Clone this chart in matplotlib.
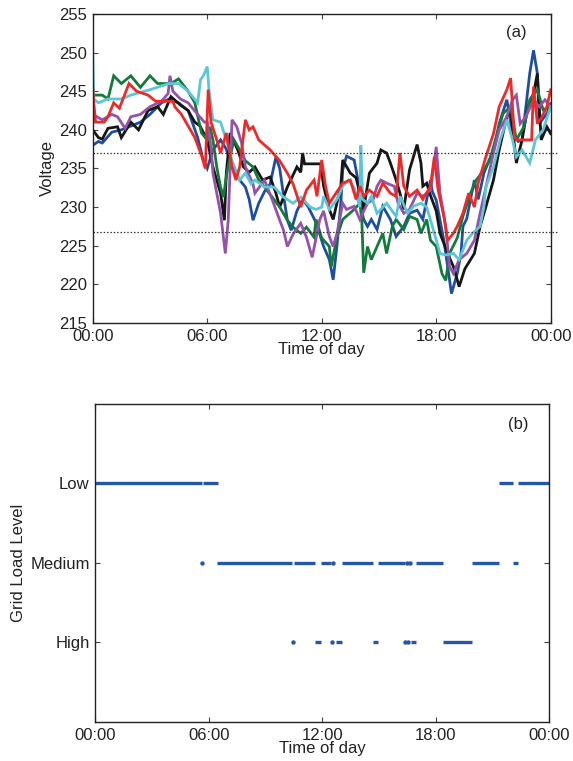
import numpy as np
import matplotlib
matplotlib.use("Agg")
import matplotlib.pyplot as plt

plt.rcParams['font.family'] = ['Liberation Sans', 'DejaVu Sans']

# ---------------- Data: panel (a) voltage traces (hour, volt) ----------------
blue_t = [0, 0.3, 0.5, 1.0, 1.5, 2.0, 2.5, 3.0, 3.6, 4.0, 4.5, 5.0, 5.5, 5.8, 6.0, 6.3, 6.7, 7.0, 7.3, 7.7,
          8.0, 8.2, 8.4, 8.7, 9.0, 9.3, 9.6, 9.8, 10.0, 10.2, 10.4, 10.7, 11.0, 11.3, 11.7, 12.1, 12.4, 12.6,
          12.8, 13.0, 13.1, 13.3, 13.7, 13.9, 14.0, 14.2, 14.4, 14.6, 14.9, 15.2, 15.6, 15.9, 16.3, 16.6,
          17.0, 17.3, 17.7, 17.8, 18.0, 18.4, 18.6, 18.8, 19.1, 19.3, 19.4, 19.6, 20.0, 20.2, 20.5, 21.0,
          21.3, 21.7, 22.0, 22.3, 22.5, 22.7, 22.9, 23.1, 23.3, 23.4, 23.8, 24.0]
blue_v = [238.0, 238.5, 238.3, 239.7, 240.0, 240.5, 241.0, 242.0, 243.5, 244.0, 243.5, 242.5, 239.0, 236.0,
          235.0, 237.4, 238.7, 237.5, 235.2, 233.5, 232.6, 231.0, 228.3, 230.5, 232.0, 233.0, 236.5, 235.0,
          231.5, 228.3, 227.0, 229.5, 231.0, 230.0, 228.0, 224.9, 223.2, 220.6, 225.0, 230.5, 234.8, 236.6,
          236.1, 233.5, 230.5, 228.4, 227.5, 228.4, 227.1, 230.1, 228.4, 226.2, 227.5, 229.2, 229.6, 228.4,
          233.5, 232.0, 230.9, 225.7, 222.3, 218.8, 221.4, 224.0, 227.5, 228.5, 233.5, 231.0, 234.4, 237.4,
          240.8, 243.9, 239.5, 238.5, 238.7, 243.0, 247.3, 250.3, 247.3, 240.8, 242.1, 243.4]

black_t = [0, 0.3, 0.5, 0.8, 1.3, 1.5, 2.0, 2.4, 2.9, 3.4, 3.7, 4.1, 4.6, 5.0, 5.35, 5.62, 6.0, 6.3, 6.7,
           6.9, 7.0, 7.2, 7.4, 7.6, 7.9, 8.2, 8.5, 8.9, 9.3, 9.6, 9.8, 10.2, 10.7, 10.9, 11.0, 11.1, 11.95,
           12.1, 12.4, 12.6, 13.0, 13.1, 13.5, 13.8, 14.2, 14.5, 14.9, 15.1, 15.4, 15.6, 15.9, 16.1, 16.3,
           16.6, 17.0, 17.2, 17.3, 17.5, 17.7, 18.0, 18.2, 18.6, 18.9, 19.1, 19.2, 19.5, 20.0, 20.3, 20.6,
           21.0, 21.3, 21.7, 21.9, 22.2, 22.5, 22.8, 23.1, 23.3, 23.5, 23.8, 24.0]
black_v = [240.0, 239.0, 238.8, 240.2, 240.4, 239.0, 241.0, 240.0, 242.5, 243.0, 242.0, 244.3, 243.2, 242.5,
           241.0, 240.5, 238.7, 235.2, 231.8, 228.3, 234.4, 239.6, 238.5, 237.4, 235.2, 234.5, 235.2, 233.5,
           233.9, 231.8, 230.0, 232.6, 235.2, 234.5, 237.0, 235.6, 235.6, 232.7, 229.7, 228.4, 232.7, 236.1,
           234.4, 233.8, 229.7, 234.4, 235.7, 237.4, 237.0, 235.7, 233.5, 231.8, 229.7, 234.8, 238.1, 235.7,
           232.7, 233.1, 231.5, 229.5, 226.6, 224.0, 222.3, 220.6, 219.7, 222.0, 224.0, 227.5, 230.0, 233.5,
           237.4, 241.7, 242.5, 235.7, 238.7, 243.0, 244.7, 247.3, 238.7, 240.4, 239.5]

green_t = [0, 0.5, 0.8, 1.1, 1.5, 2.0, 2.5, 3.0, 3.4, 4.1, 4.5, 5.0, 5.35, 5.7, 6.0, 6.15, 6.3, 6.5, 6.7,
           6.85, 7.0, 7.2, 7.4, 7.7, 8.0, 8.4, 8.7, 9.0, 9.4, 9.8, 10.2, 10.5, 10.9, 11.2, 11.6, 11.7, 12.0,
           12.4, 12.5, 12.8, 13.1, 13.7, 14.0, 14.1, 14.2, 14.4, 14.6, 14.9, 15.2, 15.4, 15.7, 15.9, 16.3,
           16.6, 17.0, 17.2, 17.5, 17.7, 18.0, 18.3, 18.5, 18.7, 19.1, 19.4, 19.8, 20.1, 20.5, 20.8, 21.2,
           21.5, 21.9, 22.2, 22.6, 22.9, 23.3, 23.6, 24.0]
green_v = [244.5, 244.5, 244.0, 247.0, 246.0, 247.0, 245.5, 247.0, 246.0, 246.0, 246.6, 245.0, 243.5, 239.6,
           238.7, 240.4, 238.7, 235.2, 232.6, 231.3, 234.0, 236.5, 238.7, 237.4, 236.0, 235.2, 233.5, 232.6,
           231.3, 230.0, 228.3, 227.4, 226.6, 227.4, 226.1, 228.4, 226.0, 224.9, 222.3, 226.2, 228.4, 229.7,
           230.5, 228.4, 221.5, 224.9, 223.2, 224.9, 226.6, 224.0, 227.5, 228.4, 227.1, 228.8, 228.4, 226.6,
           228.4, 225.7, 224.9, 221.4, 220.5, 224.0, 226.0, 228.8, 231.8, 233.5, 234.8, 236.1, 239.5, 242.1,
           243.0, 238.7, 240.4, 243.9, 245.2, 242.6, 243.0]

red_t = [0, 0.05, 0.15, 0.6, 0.8, 1.1, 1.4, 1.9, 2.3, 2.9, 3.3, 4.2, 4.3, 4.65, 5.0, 5.35, 5.7, 5.9, 6.05,
         6.2, 6.5, 6.7, 7.0, 7.3, 7.5, 7.7, 8.0, 8.2, 8.4, 8.7, 9.3, 9.8, 10.2, 10.5, 10.9, 11.2, 11.6, 11.75,
         12.0, 12.2, 12.4, 12.8, 13.1, 13.5, 13.8, 14.0, 14.2, 14.5, 14.9, 15.2, 15.6, 15.9, 16.1, 16.3,
         16.6, 17.0, 17.3, 17.7, 17.9, 18.1, 18.4, 18.6, 18.9, 19.1, 19.4, 19.7, 20.0, 20.2, 20.6, 21.0,
         21.3, 21.7, 21.9, 22.0, 22.1, 22.2, 23.0, 23.1, 23.3, 23.5, 23.8, 24.0]
red_v = [245.5, 243.7, 241.0, 241.0, 241.7, 243.5, 242.8, 246.0, 245.0, 244.5, 243.7, 243.7, 243.0, 242.0,
         240.5, 239.0, 236.7, 235.0, 245.2, 241.0, 238.7, 237.0, 239.6, 235.2, 233.5, 235.2, 241.3, 240.0,
         240.4, 238.7, 237.4, 236.0, 234.4, 233.0, 230.0, 232.2, 233.5, 231.4, 236.1, 232.7, 230.5, 232.0,
         233.1, 233.5, 231.0, 232.7, 231.4, 232.2, 231.4, 233.1, 231.8, 231.4, 237.0, 232.7, 231.4, 232.2,
         231.0, 232.7, 236.5, 232.2, 228.8, 225.7, 226.6, 227.5, 229.2, 231.8, 230.0, 233.1, 236.5, 239.5,
         243.0, 245.2, 246.7, 243.0, 239.1, 238.7, 238.7, 245.6, 240.8, 241.5, 243.0, 245.2]

purple_t = [0, 0.5, 1.0, 1.3, 1.7, 2.0, 2.5, 3.0, 3.6, 3.95, 4.05, 4.2, 4.6, 5.0, 5.5, 5.85, 6.0, 6.2, 6.3,
            6.5, 6.7, 6.95, 7.1, 7.3, 7.55, 7.8, 8.0, 8.4, 8.5, 9.0, 9.4, 9.8, 10.0, 10.2, 10.5, 10.9, 11.2,
            11.5, 11.9, 12.1, 12.4, 12.6, 12.8, 13.1, 13.3, 13.7, 14.0, 14.4, 14.7, 14.9, 15.1, 15.4, 15.8,
            16.0, 16.3, 16.6, 17.0, 17.3, 17.7, 18.0, 18.2, 18.5, 18.7, 18.9, 19.2, 19.6, 20.0, 20.3, 20.65,
            21.0, 21.3, 21.7, 22.0, 22.2, 22.4, 22.7, 23.1, 23.4, 23.7, 24.0]
purple_v = [242.0, 241.3, 242.0, 241.7, 240.2, 241.7, 242.0, 243.0, 243.7, 244.7, 247.0, 245.0, 244.0, 243.5,
            242.0, 241.0, 241.0, 237.8, 234.4, 231.8, 229.2, 224.0, 228.3, 241.3, 240.4, 238.3, 235.2, 233.0,
            231.8, 233.5, 231.0, 228.3, 227.0, 224.9, 226.5, 227.9, 226.1, 223.5, 228.4, 229.5, 226.2, 224.9,
            226.6, 230.5, 229.7, 230.1, 228.4, 230.5, 231.0, 232.7, 233.5, 233.1, 232.7, 230.5, 229.2, 229.7,
            231.8, 231.4, 232.2, 237.8, 231.8, 227.5, 222.3, 221.4, 223.2, 224.0, 225.7, 229.2, 233.1, 237.0,
            240.0, 241.7, 243.9, 244.5, 240.8, 241.7, 243.9, 243.0, 243.9, 243.0]

cyan_t = [0, 0.05, 0.3, 0.8, 1.5, 2.0, 3.0, 4.0, 4.5, 5.0, 5.5, 5.65, 5.8, 6.0, 6.1, 6.3, 6.7, 7.0, 7.3,
          7.7, 8.0, 8.3, 8.5, 9.0, 9.5, 10.0, 10.5, 10.9, 11.4, 11.7, 12.0, 12.1, 12.4, 12.8, 13.1, 13.4,
          13.7, 14.0, 14.05, 14.15, 14.4, 14.6, 14.9, 15.4, 15.9, 16.1, 16.5, 16.8, 17.2, 17.5, 17.8, 18.2,
          18.5, 18.9, 19.2, 19.6, 19.9, 20.3, 20.5, 20.6, 21.0, 21.35, 21.7, 22.0, 22.2, 22.5, 22.9, 23.2,
          23.6, 24.0]
cyan_v = [250.0, 244.0, 243.5, 244.0, 244.0, 244.5, 245.2, 246.0, 246.0, 245.0, 243.5, 246.5, 247.0, 248.2,
          245.0, 241.3, 241.0, 238.7, 236.0, 233.5, 234.4, 233.0, 233.5, 232.6, 232.6, 231.3, 230.5, 231.3,
          230.0, 229.7, 230.0, 231.4, 229.7, 231.0, 232.7, 233.5, 232.5, 230.0, 238.0, 231.0, 230.5, 231.4,
          229.2, 230.5, 228.8, 231.4, 229.2, 230.1, 230.5, 230.0, 227.5, 224.0, 223.8, 224.0, 223.2, 225.7,
          226.6, 227.5, 230.0, 232.6, 235.2, 238.7, 241.3, 238.7, 236.5, 237.4, 235.7, 238.7, 240.0, 243.0]

series = [
    (blue_t, blue_v, '#1f4e9e'),
    (black_t, black_v, '#161616'),
    (green_t, green_v, '#137a3c'),
    (purple_t, purple_v, '#9452a8'),
    (cyan_t, cyan_v, '#5cc6d6'),
    (red_t, red_v, '#ec2a2a'),
]
thresholds = [237.0, 226.8]

# ---------------- Data: panel (b) load level segments ----------------
level_names = ['High', 'Medium', 'Low']
level_values = [1, 2, 3]
low_start = [0.0, 5.71, 21.36, 22.38]
low_end = [5.63, 6.48, 22.12, 24.0]
med_start = [5.66, 6.46, 10.53, 11.94, 12.59, 13.04, 14.94, 16.48, 16.65, 16.95, 19.95, 22.12]
med_end = [5.66, 10.39, 11.62, 12.45, 12.59, 14.71, 16.39, 16.48, 16.65, 18.38, 21.36, 22.38]
high_start = [10.44, 11.62, 12.50, 12.74, 14.71, 16.39, 16.53, 16.69, 18.38]
high_end = [10.47, 11.96, 12.50, 13.04, 14.97, 16.39, 16.53, 16.97, 19.95]

xticks = [0, 6, 12, 18, 24]
xtick_labels = ['00:00', '06:00', '12:00', '18:00', '00:00']

# ---------------- Figure ----------------
fig = plt.figure(figsize=(5.73, 7.61), dpi=100)
txt_color = '#222222'
FS = 12

def style(ax):
    ax.tick_params(direction='in', length=3.5, width=0.8, top=True, right=True,
                   labelsize=FS, colors='#444444', labelcolor=txt_color, pad=4)
    for s in ax.spines.values():
        s.set_linewidth(1.0)
        s.set_color('#222222')

# Panel (a)
ax1 = fig.add_axes([0.1618, 0.5756, 0.7993, 0.4060])
for t, v, c in series:
    ax1.plot(t, v, color=c, lw=2.0, solid_joinstyle='miter')
for th in thresholds:
    ax1.plot([0, 24.35], [th, th], color='#333333', lw=0.9, ls=(0, (1.2, 1.5)), clip_on=False)
ax1.set_xlim(0, 24)
ax1.set_ylim(215, 255)
ax1.set_yticks(np.arange(215, 256, 5))
ax1.set_xticks(xticks)
ax1.set_xticklabels(xtick_labels)
ax1.set_ylabel('Voltage', fontsize=FS, color=txt_color, labelpad=3)
ax1.set_xlabel('Time of day', fontsize=FS, color=txt_color, labelpad=-1)
ax1.text(22.2, 252.6, '(a)', fontsize=12, color=txt_color, ha='center', va='center')
style(ax1)

# Panel (b)
ax2 = fig.add_axes([0.1663, 0.0513, 0.7918, 0.4179])
dot_c = '#2456a6'
for starts, ends, lvl in [(low_start, low_end, 3), (med_start, med_end, 2), (high_start, high_end, 1)]:
    for s, e in zip(starts, ends):
        if e - s < 0.1:
            ax2.plot([(s + e) / 2], [lvl], color=dot_c, marker='o', ms=3.2, mew=0, clip_on=False)
        else:
            ax2.plot([s, e], [lvl, lvl], color=dot_c, lw=2.4, solid_capstyle='butt', clip_on=False)
ax2.set_xlim(0, 24)
ax2.set_ylim(0, 4)
ax2.set_yticks(level_values)
ax2.set_yticklabels(level_names)
ax2.set_xticks(xticks)
ax2.set_xticklabels(xtick_labels)
ax2.set_ylabel('Grid Load Level', fontsize=FS, color=txt_color, labelpad=3)
ax2.set_xlabel('Time of day', fontsize=FS, color=txt_color, labelpad=-1)
ax2.text(22.4, 3.74, '(b)', fontsize=12, color=txt_color, ha='center', va='center')
style(ax2)

fig.savefig('out.png', dpi=100)
